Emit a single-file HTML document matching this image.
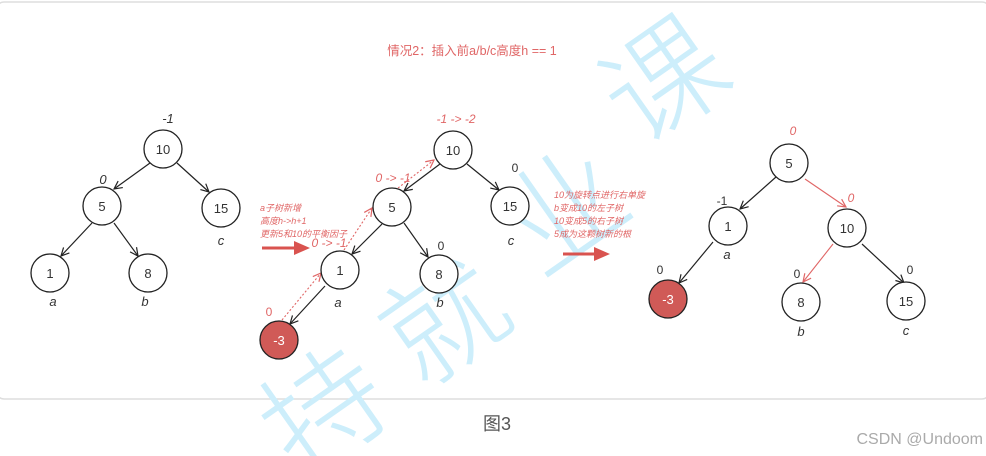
<!DOCTYPE html>
<html><head><meta charset="utf-8"><style>
html,body{margin:0;padding:0;background:#fff;width:986px;height:456px;overflow:hidden}
svg{display:block;overflow:hidden}
text{font-family:"Liberation Sans","Noto Sans CJK SC",sans-serif}
</style></head><body>
<svg width="986" height="456" viewBox="0 0 986 456" xmlns="http://www.w3.org/2000/svg">
<defs>
<marker id="ab" markerWidth="10" markerHeight="10" refX="9" refY="5" orient="auto" markerUnits="userSpaceOnUse"><path d="M1,1 L9,5 L1,9" fill="none" stroke="#222" stroke-width="1.2"/></marker>
<marker id="ar" markerWidth="10" markerHeight="10" refX="9" refY="5" orient="auto" markerUnits="userSpaceOnUse"><path d="M1,1 L9,5 L1,9" fill="none" stroke="#e06666" stroke-width="1.2"/></marker>
<clipPath id="c"><rect x="0" y="0" width="986" height="456"/></clipPath>
</defs>
<g clip-path="url(#c)">
<rect x="-4" y="2" width="994" height="397" rx="8" fill="#fff" stroke="#ddd" stroke-width="1.5"/>
<!-- watermark -->
<g fill="#cdeefb" font-size="120" style="font-family:'Noto Serif CJK SC',serif" font-weight="200">
<text x="0" y="0" transform="translate(640,150) rotate(-35)">课</text>
<text x="0" y="0" transform="translate(540,280) rotate(-35)">业</text>
<text x="0" y="0" transform="translate(420,390) rotate(-35)">就</text>
<text x="0" y="0" transform="translate(300,480) rotate(-35)">持</text>
</g>
<text x="472" y="55" font-size="12.5" fill="#e06666" text-anchor="middle">情况2：插入前a/b/c高度h == 1</text>
<g stroke="#222" stroke-width="1.2" fill="none">
<line x1="150" y1="163" x2="114" y2="189" marker-end="url(#ab)"/>
<line x1="177" y1="163" x2="209" y2="192" marker-end="url(#ab)"/>
<line x1="92" y1="223" x2="61" y2="256" marker-end="url(#ab)"/>
<line x1="114" y1="223" x2="138" y2="256" marker-end="url(#ab)"/>
<line x1="440" y1="164" x2="404" y2="191" marker-end="url(#ab)"/>
<line x1="467" y1="164" x2="499" y2="190" marker-end="url(#ab)"/>
<line x1="382" y1="224" x2="352" y2="254" marker-end="url(#ab)"/>
<line x1="404" y1="223" x2="428" y2="257" marker-end="url(#ab)"/>
<line x1="325" y1="286" x2="290" y2="324" marker-end="url(#ab)"/>
<line x1="776" y1="177" x2="740" y2="209" marker-end="url(#ab)"/>
<line x1="713" y1="242" x2="679" y2="283" marker-end="url(#ab)"/>
<line x1="862" y1="244" x2="904" y2="283" marker-end="url(#ab)"/>
</g>
<g stroke="#e06666" stroke-width="1.1" fill="none">
<line x1="805" y1="179" x2="846" y2="207" marker-end="url(#ar)"/>
<line x1="833" y1="244" x2="803" y2="282" marker-end="url(#ar)"/>
<g stroke-dasharray="2,2">
<line x1="282" y1="320" x2="321" y2="273" marker-end="url(#ar)"/>
<line x1="344" y1="250" x2="372" y2="208" marker-end="url(#ar)"/>
<line x1="398" y1="188" x2="434" y2="160" marker-end="url(#ar)"/>
</g>
</g>
<g fill="#d9534f" stroke="#d9534f">
<line x1="262" y1="248" x2="296" y2="248" stroke-width="3"/><path d="M294,241 L310,248 L294,255Z" stroke="none"/>
<line x1="563" y1="254" x2="596" y2="254" stroke-width="3"/><path d="M594,247 L610,254 L594,261Z" stroke="none"/>
</g>
<g stroke="#222" stroke-width="1.3" fill="#fff">
<circle cx="163" cy="149" r="19"/><circle cx="221" cy="208" r="19"/><circle cx="102" cy="206" r="19"/><circle cx="50" cy="273" r="19"/><circle cx="148" cy="273" r="19"/>
<circle cx="453" cy="150" r="19"/><circle cx="392" cy="207" r="19"/><circle cx="510" cy="206" r="19"/><circle cx="340" cy="270" r="19"/><circle cx="439" cy="274" r="19"/>
<circle cx="279" cy="340" r="19" fill="#d05a57"/>
<circle cx="789" cy="163" r="19"/><circle cx="728" cy="226" r="19"/><circle cx="847" cy="228" r="19"/><circle cx="801" cy="302" r="19"/><circle cx="906" cy="301" r="19"/>
<circle cx="668" cy="299" r="19" fill="#d05a57"/>
</g>
<g font-size="13" fill="#333" text-anchor="middle">
<text x="163" y="154">10</text><text x="221" y="213">15</text><text x="102" y="211">5</text><text x="50" y="278">1</text><text x="148" y="278">8</text>
<text x="453" y="155">10</text><text x="392" y="212">5</text><text x="510" y="211">15</text><text x="340" y="275">1</text><text x="439" y="279">8</text>
<text x="279" y="345" fill="#fff">-3</text>
<text x="789" y="168">5</text><text x="728" y="231">1</text><text x="847" y="233">10</text><text x="801" y="307">8</text><text x="906" y="306">15</text>
<text x="668" y="304" fill="#fff">-3</text>
</g>
<g font-size="13" fill="#333" font-style="italic" text-anchor="middle">
<text x="168" y="123">-1</text><text x="103" y="184">0</text><text x="221" y="245">c</text><text x="53" y="306">a</text><text x="145" y="306">b</text>
<text x="338" y="307">a</text><text x="440" y="307">b</text><text x="511" y="245">c</text>
<text x="727" y="259">a</text><text x="801" y="336">b</text><text x="906" y="335">c</text>
</g>
<g font-size="12" fill="#333" text-anchor="middle">
<text x="515" y="172">0</text><text x="441" y="250">0</text>
<text x="722" y="205">-1</text><text x="660" y="274">0</text><text x="797" y="278">0</text><text x="910" y="274">0</text>
</g>
<g font-size="12" fill="#e06666" font-style="italic" text-anchor="middle">
<text x="456" y="123">-1 -&gt; -2</text>
<text x="393" y="182">0 -&gt; -1</text>
<text x="329" y="247">0 -&gt; -1</text>
<text x="269" y="316" font-style="normal">0</text>
<text x="793" y="135">0</text><text x="851" y="202">0</text>
</g>
<g font-size="9" fill="#e06666" font-style="italic">
<text x="260" y="211">a子树新增</text><text x="260" y="224">高度h-&gt;h+1</text><text x="260" y="237">更新5和10的平衡因子</text>
<text x="554" y="198">10为旋转点进行右单旋</text><text x="554" y="211">b变成10的左子树</text><text x="554" y="224">10变成5的右子树</text><text x="554" y="237">5成为这颗树新的根</text>
</g>
<text x="497" y="430" font-size="18" fill="#555" text-anchor="middle">图3</text>
<text x="983" y="444" font-size="16" fill="#aaa" text-anchor="end">CSDN @Undoom</text>
</g>
</svg>
</body></html>
